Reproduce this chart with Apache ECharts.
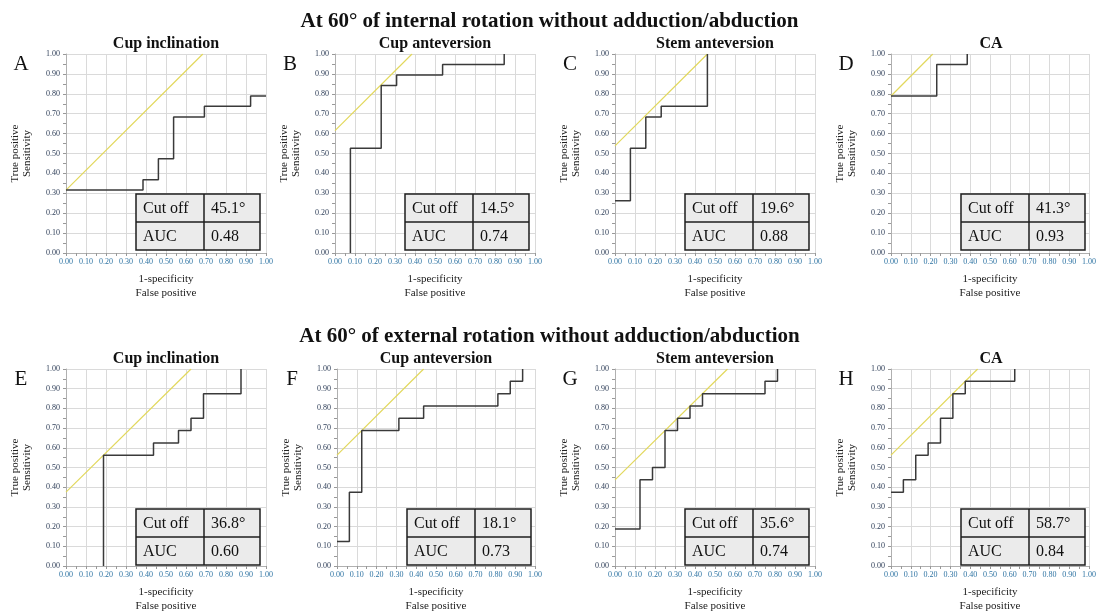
<!DOCTYPE html>
<html><head><meta charset="utf-8">
<script src="https://cdn.jsdelivr.net/npm/echarts@6/dist/echarts.min.js"></script>
<style>html,body{margin:0;padding:0;background:#fff}#c{width:1099px;height:614px}</style>
</head><body><div id="c"></div>
<script>
// ---- data ----
const sectionTitles = ['At 60\u00b0 of internal rotation without adduction/abduction',
                       'At 60\u00b0 of external rotation without adduction/abduction'];
const panelLetters = ['A','B','C','D','E','F','G','H'];
const panelTitles = ['Cup inclination','Cup anteversion','Stem anteversion','CA',
                     'Cup inclination','Cup anteversion','Stem anteversion','CA'];
const cutOffs = ['45.1\u00b0','14.5\u00b0','19.6\u00b0','41.3\u00b0','36.8\u00b0','18.1\u00b0','35.6\u00b0','58.7\u00b0'];
const aucs = ['0.48','0.74','0.88','0.93','0.60','0.73','0.74','0.84'];
const xAxisName = '1-specificity\nFalse positive';
const yAxisName = 'True positive\nSensitivity';
const tableLabels = ['Cut off','AUC'];

// ROC operating points (1-specificity, sensitivity)
const fprA = [0, 0.385, 0.462, 0.538, 0.692, 0.923, 1.0];
const tprA = [0.316, 0.368, 0.474, 0.684, 0.737, 0.789, 0.789];
const fprB = [0.077, 0.077, 0.231, 0.308, 0.538, 0.846];
const tprB = [0, 0.526, 0.842, 0.895, 0.947, 1.0];
const fprC = [0, 0.077, 0.154, 0.231, 0.462];
const tprC = [0.263, 0.526, 0.684, 0.737, 1.0];
const fprD = [0, 0.231, 0.385];
const tprD = [0.789, 0.947, 1.0];
const fprE = [0.1875, 0.1875, 0.4375, 0.5625, 0.625, 0.6875, 0.875];
const tprE = [0, 0.5625, 0.625, 0.6875, 0.75, 0.875, 1.0];
const fprF = [0, 0.0625, 0.125, 0.3125, 0.4375, 0.8125, 0.875, 0.9375];
const tprF = [0.125, 0.375, 0.6875, 0.75, 0.8125, 0.875, 0.9375, 1.0];
const fprG = [0, 0.125, 0.1875, 0.25, 0.3125, 0.375, 0.4375, 0.75, 0.8125];
const tprG = [0.1875, 0.4375, 0.5, 0.6875, 0.75, 0.8125, 0.875, 0.9375, 1.0];
const fprH = [0, 0.0625, 0.125, 0.1875, 0.25, 0.3125, 0.375, 0.625];
const tprH = [0.375, 0.4375, 0.5625, 0.625, 0.75, 0.875, 0.9375, 1.0];
// intercept of the 45-degree tangent (yellow) line at 1-specificity = 0
const tangentIntercepts = [0.316, 0.615, 0.538, 0.789, 0.375, 0.5625, 0.4375, 0.5625];

const fprs = [fprA, fprB, fprC, fprD, fprE, fprF, fprG, fprH];
const tprs = [tprA, tprB, tprC, tprD, tprE, tprF, tprG, tprH];

// ---- layout ----
const gridLefts = [66, 335, 615, 891, 66, 337, 615, 891];
const gridTops = [54, 54, 54, 54, 369, 369, 369, 369];
const gridWidths = [200, 200, 200, 200, 200, 198, 200, 200];
const gridH = 199;
const FONT = '"Liberation Serif", "DejaVu Serif", serif';

const grids = [], xAxes = [], yAxes = [], series = [], graphics = [];
for (let i = 0; i < 8; i++) {
  const L = gridLefts[i], T = gridTops[i], W = gridWidths[i];
  grids.push({left: L, top: T, width: W, height: gridH, containLabel: false});
  xAxes.push({
    type: 'value', gridIndex: i, min: 0, max: 1, interval: 0.1,
    name: xAxisName, nameLocation: 'middle', nameGap: 19,
    nameTextStyle: {fontFamily: FONT, fontSize: 11, color: '#222', lineHeight: 14},
    axisLine: {show: true, lineStyle: {color: '#b0b0b0', width: 1}},
    axisTick: {show: true, length: 3, lineStyle: {color: '#999'}},
    minorTick: {show: true, splitNumber: 2, length: 3, lineStyle: {color: '#999'}},
    splitLine: {show: true, lineStyle: {color: '#dadada', width: 1}},
    axisLabel: {fontFamily: FONT, fontSize: 8, color: '#2f74a3', margin: 5,
                formatter: v => v.toFixed(2), showMinLabel: true, showMaxLabel: true}
  });
  yAxes.push({
    type: 'value', gridIndex: i, min: 0, max: 1, interval: 0.1,
    name: yAxisName, nameLocation: 'middle', nameGap: 33, nameRotate: 90,
    nameTextStyle: {fontFamily: FONT, fontSize: 11, color: '#222', lineHeight: 12},
    axisLine: {show: true, lineStyle: {color: '#b0b0b0', width: 1}},
    axisTick: {show: true, length: 3, lineStyle: {color: '#999'}},
    minorTick: {show: true, splitNumber: 2, length: 3, lineStyle: {color: '#999'}},
    splitLine: {show: true, lineStyle: {color: '#dadada', width: 1}},
    axisLabel: {fontFamily: FONT, fontSize: 8, color: '#2e3e58', margin: 6,
                formatter: v => v.toFixed(2), showMinLabel: true, showMaxLabel: true}
  });
  const b = tangentIntercepts[i];
  series.push({
    type: 'line', xAxisIndex: i, yAxisIndex: i, z: 2,
    data: [[0, b], [1 - b, 1]], showSymbol: false, silent: true,
    lineStyle: {color: '#e2d85c', width: 1.2}
  });
  series.push({
    type: 'line', xAxisIndex: i, yAxisIndex: i, z: 3, step: 'end',
    data: fprs[i].map((x, k) => [x, tprs[i][k]]), showSymbol: false, silent: true,
    lineStyle: {color: '#3a3a3a', width: 1.5}
  });

  // panel title & letter
  graphics.push({type: 'text', x: L + W / 2, y: T - 10, z: 10,
    style: {text: panelTitles[i], font: 'bold 16px ' + FONT, fill: '#111', align: 'center', verticalAlign: 'middle'}});
  graphics.push({type: 'text', x: L - 45, y: T + 10, z: 10,
    style: {text: panelLetters[i], font: '21px ' + FONT, fill: '#111', align: 'center', verticalAlign: 'middle'}});

  // Cut off / AUC table
  const tx = L + 70, ty = T + 140, tw = 124, th = 56, cx = 68;
  graphics.push({type: 'rect', z: 10, shape: {x: tx, y: ty, width: tw, height: th},
    style: {fill: '#ebebeb', stroke: '#1e1e1e', lineWidth: 1.5}});
  graphics.push({type: 'line', z: 11, shape: {x1: tx + cx, y1: ty, x2: tx + cx, y2: ty + th},
    style: {stroke: '#1e1e1e', lineWidth: 1.5}});
  graphics.push({type: 'line', z: 11, shape: {x1: tx, y1: ty + th / 2, x2: tx + tw, y2: ty + th / 2},
    style: {stroke: '#1e1e1e', lineWidth: 1.5}});
  const cells = [[tableLabels[0], cutOffs[i]], [tableLabels[1], aucs[i]]];
  cells.forEach((row, r) => {
    graphics.push({type: 'text', z: 12, x: tx + 7, y: ty + th / 4 + r * th / 2 + 1,
      style: {text: row[0], font: '16px ' + FONT, fill: '#111', verticalAlign: 'middle'}});
    graphics.push({type: 'text', z: 12, x: tx + cx + 7, y: ty + th / 4 + r * th / 2 + 1,
      style: {text: row[1], font: '16px ' + FONT, fill: '#111', verticalAlign: 'middle'}});
  });
}

const chart = echarts.init(document.getElementById('c'), null, {renderer: 'canvas'});
chart.setOption({
  backgroundColor: '#fff',
  animation: false,
  title: [
    {text: sectionTitles[0], left: 'center', top: 6,
     textStyle: {fontFamily: FONT, fontSize: 21, fontWeight: 'bold', color: '#111'}},
    {text: sectionTitles[1], left: 'center', top: 321,
     textStyle: {fontFamily: FONT, fontSize: 21, fontWeight: 'bold', color: '#111'}}
  ],
  grid: grids, xAxis: xAxes, yAxis: yAxes, series: series,
  graphic: graphics
});
</script></body></html>
